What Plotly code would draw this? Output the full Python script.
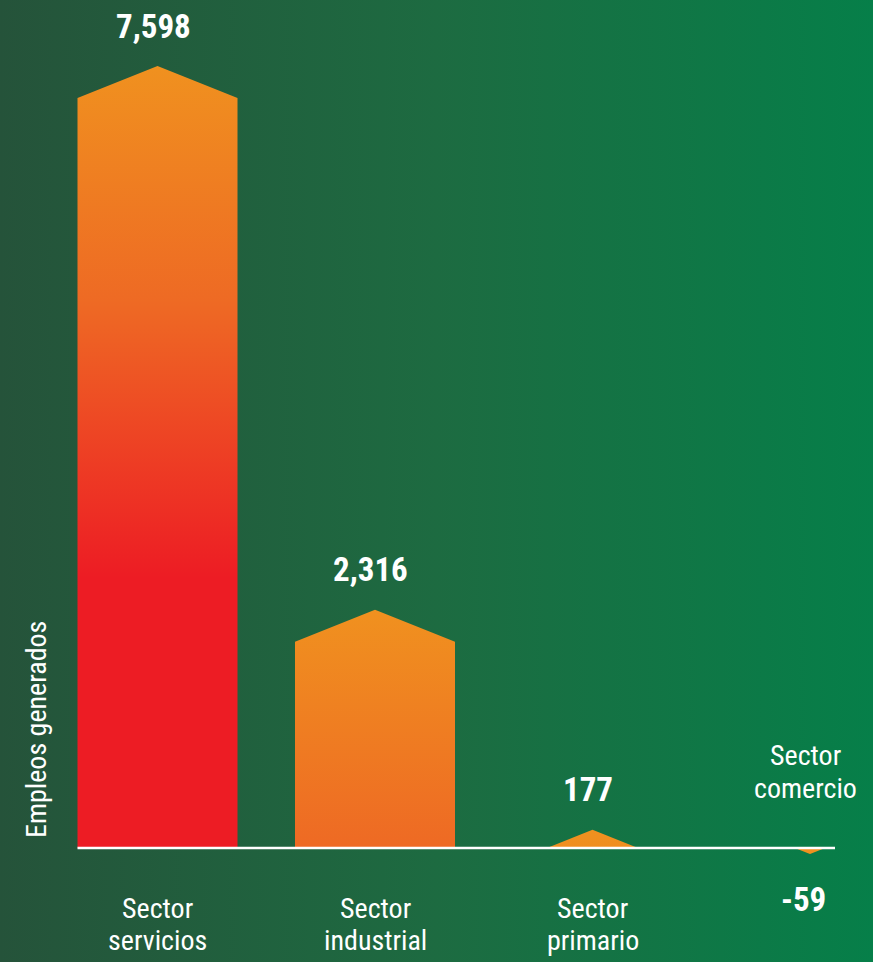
import plotly.graph_objects as go

# ---- data ----
categories = ["Sector servicios", "Sector industrial", "Sector primario", "Sector comercio"]
label_line1 = ["Sector", "Sector", "Sector", "Sector"]
label_line2 = ["servicios", "industrial", "primario", "comercio"]
values = [7598, 2316, 177, -59]
value_labels = ["7,598", "2,316", "177", "-59"]
axis_title = "Empleos generados"

# ---- geometry / style ----
W, H = 873, 962
PX_PER_CAT = 217.5          # pixel distance between category centers
FIRST_CENTER_PX = 157.5
BASE_PX = 848               # pixel row of zero line
PX_PER_UNIT = 782 / 7598    # pixels per data unit
K = 1 / PX_PER_UNIT          # data units per pixel

x0 = -FIRST_CENTER_PX / PX_PER_CAT
x1 = x0 + W / PX_PER_CAT
y_top = BASE_PX * K
y_bot = -(H - BASE_PX) * K

HALF_W = 80 / PX_PER_CAT     # half width of a bar in x units
ROOF_PX = 32                 # height of the pointed roof in px
SLOPE = ROOF_PX / 80

ORANGE = "#F0911F"
MID = "#EE6A24"
RED = "#ED1C24"
FONT = "Roboto Condensed, Liberation Sans Narrow, Roboto, sans-serif"

fig = go.Figure()

# background gradient
fig.add_trace(go.Scatter(
    x=[x0, x1, x1, x0, x0], y=[y_bot, y_bot, y_top, y_top, y_bot],
    mode="none", fill="toself", hoverinfo="skip", showlegend=False,
    fillgradient=dict(type="horizontal", colorscale=[[0, "#25533A"], [0.5, "#1D6B41"], [1, "#067F49"]],
                      start=x0, stop=x1),
))

# bars with pointed roofs
for i, v in enumerate(values):
    c = i
    vpx = abs(v) * PX_PER_UNIT
    s = 1 if v >= 0 else -1
    if vpx >= ROOF_PX:
        shoulder = v - s * ROOF_PX * K
        xs = [c - HALF_W, c - HALF_W, c, c + HALF_W, c + HALF_W, c - HALF_W]
        ys = [0, shoulder, v, shoulder, 0, 0]
    else:
        hb = (vpx / SLOPE) / PX_PER_CAT
        xs = [c - hb, c, c + hb, c - hb]
        ys = [0, v, 0, 0]
    top = v
    grad_end = v - s * 512 * K
    fig.add_trace(go.Scatter(
        x=xs, y=ys, mode="none", fill="toself", hoverinfo="skip", showlegend=False,
        fillgradient=dict(type="vertical",
                          colorscale=[[0, RED], [0.54, MID], [1, ORANGE]] if s > 0 else [[0, ORANGE], [1, ORANGE]],
                          start=min(top, grad_end), stop=max(top, grad_end)),
    ))

# baseline
fig.add_trace(go.Scatter(
    x=[-HALF_W, len(values) - 1 + 25 / PX_PER_CAT], y=[0, 0], mode="lines",
    line=dict(color="white", width=2.5), hoverinfo="skip", showlegend=False,
))

LBL = 28
ann = []
for i, v in enumerate(values):
    if v >= 0:
        ann.append(dict(x=i - 0.02, y=v, text=f"<b>{value_labels[i]}</b>", yshift=40,
                        font=dict(size=33, color="white", family=FONT)))
        ann.append(dict(x=i, y=0, text=label_line1[i], yshift=-60,
                        font=dict(size=LBL, color="white", family=FONT)))
        ann.append(dict(x=i, y=0, text=label_line2[i], yshift=-92,
                        font=dict(size=LBL, color="white", family=FONT)))
    else:
        ann.append(dict(x=i - 0.03, y=v, text=f"<b>{value_labels[i]}</b>", yshift=-45,
                        font=dict(size=33, color="white", family=FONT)))
        ann.append(dict(x=i - 0.02, y=0, text=label_line1[i], yshift=93,
                        font=dict(size=LBL, color="white", family=FONT)))
        ann.append(dict(x=i - 0.02, y=0, text=label_line2[i], yshift=60,
                        font=dict(size=LBL, color="white", family=FONT)))
for a in ann:
    a.update(xref="x", yref="y", showarrow=False, xanchor="center", yanchor="middle")

ann.append(dict(x=36 / W, y=1 - 730 / H, xref="paper", yref="paper", text=axis_title,
                textangle=-90, showarrow=False, xanchor="center", yanchor="middle",
                font=dict(size=28, color="white", family=FONT)))

fig.update_layout(
    width=W, height=H, autosize=False,
    margin=dict(l=0, r=0, t=0, b=0),
    paper_bgcolor="#1D6B41", plot_bgcolor="rgba(0,0,0,0)",
    xaxis=dict(range=[x0, x1], visible=False, fixedrange=True),
    yaxis=dict(range=[y_bot, y_top], visible=False, fixedrange=True),
    annotations=ann,
    showlegend=False,
)

fig.write_html("out.html", config={"displayModeBar": False},
               post_script="document.body.style.margin='0';document.body.style.padding='0';document.body.style.overflow='hidden';")
